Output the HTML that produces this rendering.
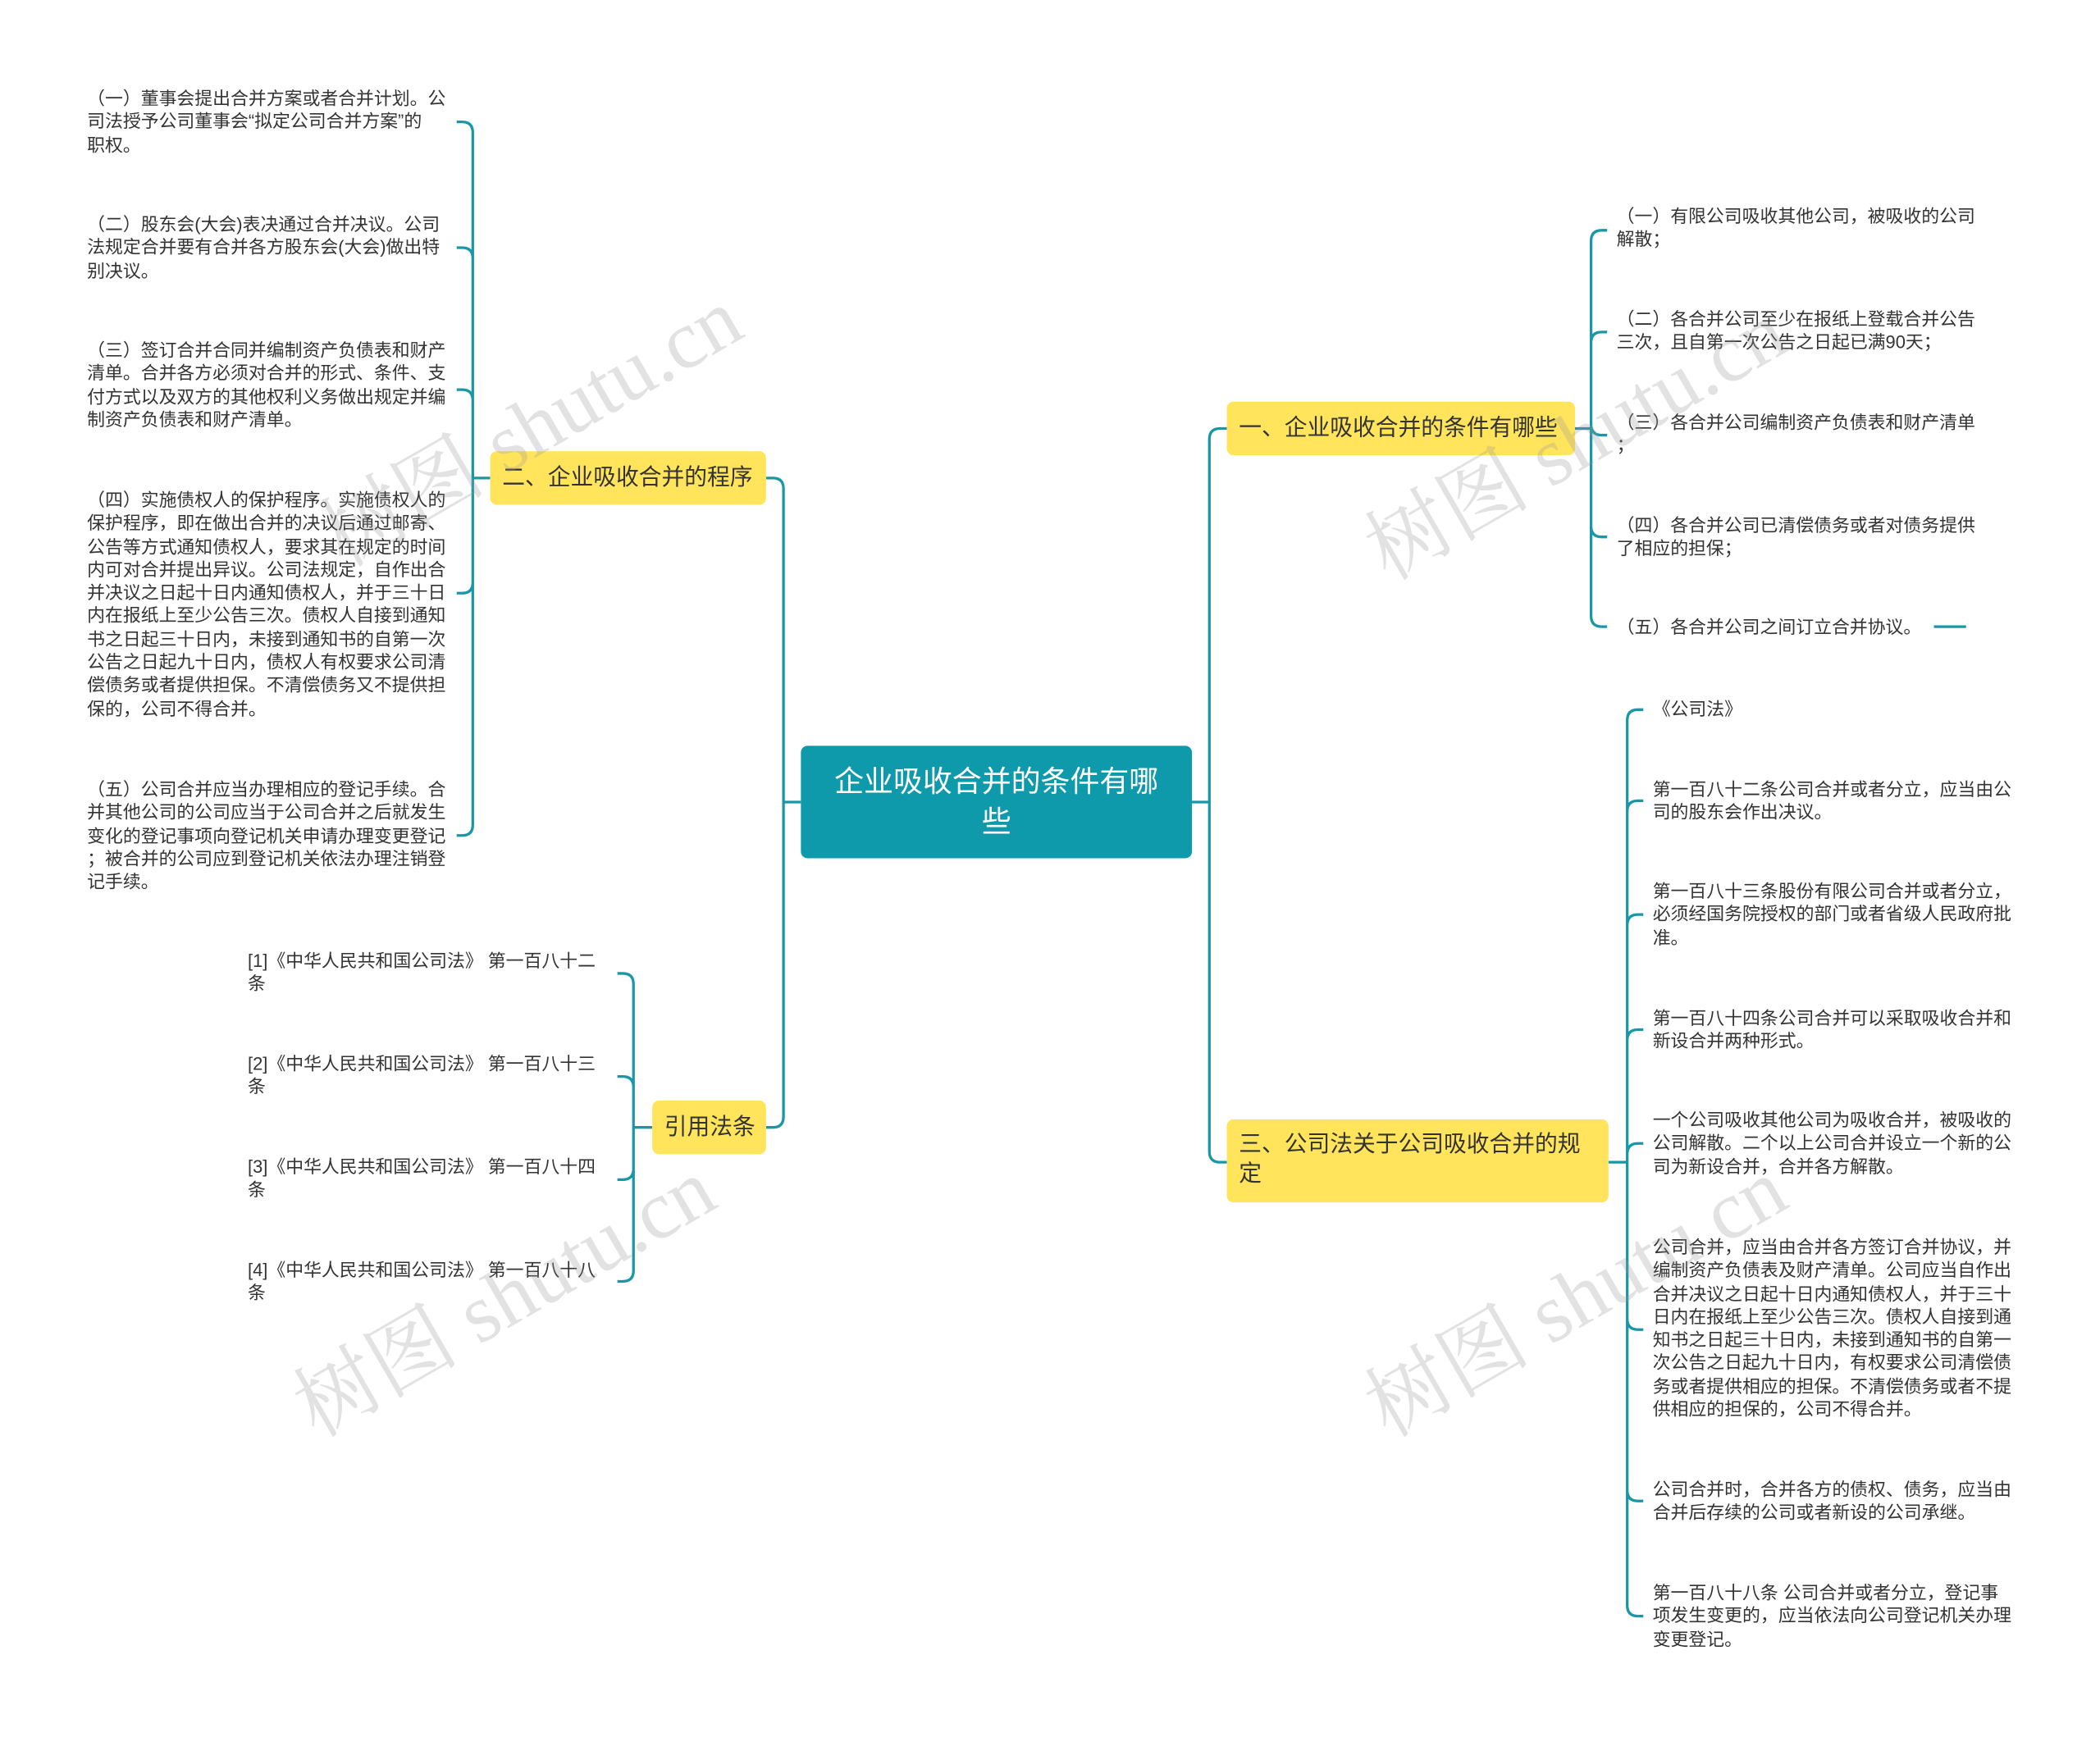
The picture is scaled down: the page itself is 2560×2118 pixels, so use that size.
<!DOCTYPE html>
<html><head><meta charset="utf-8">
<style>
html,body{margin:0;padding:0;background:#fff;width:2560px;height:2117px;overflow:hidden}
#w{position:absolute;left:0;top:0;width:1568px;height:1297px;transform:scale(1.632653);transform-origin:0 0;font-family:"Liberation Sans","Noto Sans CJK SC",sans-serif}
.t{position:absolute;font-size:13.4px;line-height:17.3px;color:#333;white-space:nowrap}
.y{position:absolute;background:#ffe45c;border-radius:5px;font-size:17px;color:#333;line-height:22px;padding:0 9px;box-sizing:border-box;white-space:nowrap}
.wm{position:absolute;font-family:"Liberation Serif","Noto Serif CJK SC",serif;font-size:62px;color:rgba(150,150,150,0.28);transform:rotate(-30deg);white-space:nowrap}
svg{position:absolute;left:0;top:0}
</style></head><body><div id="w">
<svg width="1568" height="1297" fill="none" stroke="#1a97a6" stroke-width="2">
<path d="M366 357H353M353 357V99Q353 91 345 91H341M353 357V193Q353 185 345 185H341M353 357V299Q353 291 345 291H341M353 357V435Q353 443 345 443H341M353 357V616Q353 624 345 624H341"/>
<path d="M487 842H473M473 842V735Q473 727 465 727H461M473 842V812Q473 804 465 804H461M473 842V873Q473 881 465 881H461M473 842V949Q473 957 465 957H461"/>
<path d="M598 599H585M585 599V365Q585 357 577 357H572M585 599V834Q585 842 577 842H572"/>
<path d="M890 599H903M903 599V328Q903 320 911 320H916M903 599V860Q903 868 911 868H916"/>
<path d="M1176 320H1188M1188 320V180Q1188 172 1196 172H1200M1188 320V256Q1188 248 1196 248H1200M1188 320V317Q1188 325 1196 325H1200M1188 320V393Q1188 401 1196 401H1200M1188 320V460Q1188 468 1196 468H1200M1444 468H1468"/>
<path d="M1201 868H1215M1215 868V538Q1215 530 1223 530H1227M1215 868V606Q1215 598 1223 598H1227M1215 868V691Q1215 683 1223 683H1227M1215 868V777Q1215 769 1223 769H1227M1215 868V862Q1215 854 1223 854H1227M1215 868V985Q1215 993 1223 993H1227M1215 868V1113Q1215 1121 1223 1121H1227M1215 868V1199Q1215 1207 1223 1207H1227"/>
</svg>
<div style="position:absolute;left:598px;top:557px;width:292px;height:84px;background:#0f9aab;border-radius:5px;color:#fff;font-size:22px;line-height:30px;text-align:center;padding-top:12px;box-sizing:border-box">企业吸收合并的条件有哪<br>些</div>
<div class="y" style="left:366px;top:337px;width:206px;height:40px;padding-top:9px">二、企业吸收合并的程序</div>
<div class="y" style="left:487px;top:822px;width:85px;height:40px;padding-top:9px">引用法条</div>
<div class="y" style="left:916px;top:300px;width:260px;height:40px;padding-top:9px">一、企业吸收合并的条件有哪些</div>
<div class="y" style="left:916px;top:836px;width:285px;height:62px;padding-top:8px">三、公司法关于公司吸收合并的规<br>定</div>

<div class="t" style="left:65px;top:65px">（一）董事会提出合并方案或者合并计划。公<br>司法授予公司董事会“拟定公司合并方案”的<br>职权。</div>
<div class="t" style="left:65px;top:159px">（二）股东会(大会)表决通过合并决议。公司<br>法规定合并要有合并各方股东会(大会)做出特<br>别决议。</div>
<div class="t" style="left:65px;top:253px">（三）签订合并合同并编制资产负债表和财产<br>清单。合并各方必须对合并的形式、条件、支<br>付方式以及双方的其他权利义务做出规定并编<br>制资产负债表和财产清单。</div>
<div class="t" style="left:65px;top:365px">（四）实施债权人的保护程序。实施债权人的<br>保护程序，即在做出合并的决议后通过邮寄、<br>公告等方式通知债权人，要求其在规定的时间<br>内可对合并提出异议。公司法规定，自作出合<br>并决议之日起十日内通知债权人，并于三十日<br>内在报纸上至少公告三次。债权人自接到通知<br>书之日起三十日内，未接到通知书的自第一次<br>公告之日起九十日内，债权人有权要求公司清<br>偿债务或者提供担保。不清偿债务又不提供担<br>保的，公司不得合并。</div>
<div class="t" style="left:65px;top:581px">（五）公司合并应当办理相应的登记手续。合<br>并其他公司的公司应当于公司合并之后就发生<br>变化的登记事项向登记机关申请办理变更登记<br>；被合并的公司应到登记机关依法办理注销登<br>记手续。</div>

<div class="t" style="left:185px;top:709px">[1]《中华人民共和国公司法》 第一百八十二<br>条</div>
<div class="t" style="left:185px;top:786px">[2]《中华人民共和国公司法》 第一百八十三<br>条</div>
<div class="t" style="left:185px;top:863px">[3]《中华人民共和国公司法》 第一百八十四<br>条</div>
<div class="t" style="left:185px;top:940px">[4]《中华人民共和国公司法》 第一百八十八<br>条</div>

<div class="t" style="left:1207px;top:153px">（一）有限公司吸收其他公司，被吸收的公司<br>解散；</div>
<div class="t" style="left:1207px;top:230px">（二）各合并公司至少在报纸上登载合并公告<br>三次，且自第一次公告之日起已满90天；</div>
<div class="t" style="left:1207px;top:307px">（三）各合并公司编制资产负债表和财产清单<br>；</div>
<div class="t" style="left:1207px;top:384px">（四）各合并公司已清偿债务或者对债务提供<br>了相应的担保；</div>
<div class="t" style="left:1207px;top:460px">（五）各合并公司之间订立合并协议。</div>

<div class="t" style="left:1234px;top:521px">《公司法》</div>
<div class="t" style="left:1234px;top:581px">第一百八十二条公司合并或者分立，应当由公<br>司的股东会作出决议。</div>
<div class="t" style="left:1234px;top:657px">第一百八十三条股份有限公司合并或者分立，<br>必须经国务院授权的部门或者省级人民政府批<br>准。</div>
<div class="t" style="left:1234px;top:752px">第一百八十四条公司合并可以采取吸收合并和<br>新设合并两种形式。</div>
<div class="t" style="left:1234px;top:828px">一个公司吸收其他公司为吸收合并，被吸收的<br>公司解散。二个以上公司合并设立一个新的公<br>司为新设合并，合并各方解散。</div>
<div class="t" style="left:1234px;top:923px">公司合并，应当由合并各方签订合并协议，并<br>编制资产负债表及财产清单。公司应当自作出<br>合并决议之日起十日内通知债权人，并于三十<br>日内在报纸上至少公告三次。债权人自接到通<br>知书之日起三十日内，未接到通知书的自第一<br>次公告之日起九十日内，有权要求公司清偿债<br>务或者提供相应的担保。不清偿债务或者不提<br>供相应的担保的，公司不得合并。</div>
<div class="t" style="left:1234px;top:1104px">公司合并时，合并各方的债权、债务，应当由<br>合并后存续的公司或者新设的公司承继。</div>
<div class="t" style="left:1234px;top:1181px">第一百八十八条 公司合并或者分立，登记事<br>项发生变更的，应当依法向公司登记机关办理<br>变更登记。</div>

<div class="wm" style="left:220px;top:270px">树图 shutu.cn</div>
<div class="wm" style="left:1000px;top:280px">树图 shutu.cn</div>
<div class="wm" style="left:200px;top:920px">树图 shutu.cn</div>
<div class="wm" style="left:1000px;top:920px">树图 shutu.cn</div>
</div></body></html>
